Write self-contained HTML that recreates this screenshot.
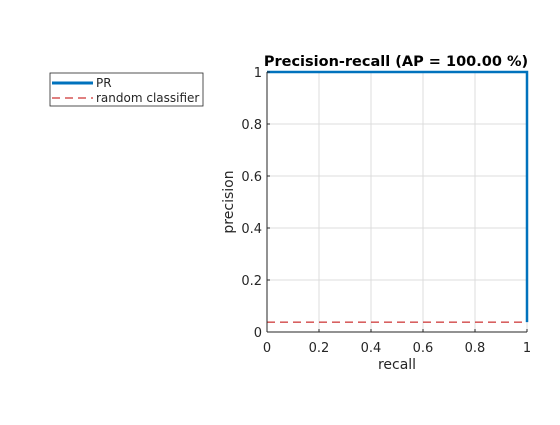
<!DOCTYPE html>
<html><head><style>
body{margin:0;background:#fff;}
svg text{font-family:"DejaVu Sans","Liberation Sans",sans-serif;fill:#262626;}
</style></head><body>
<svg width="560" height="420">
<g id="grid"></g>
<g id="marks"></g>
<g id="axes"></g>
<text x="396" y="66" text-anchor="middle" font-size="14.5" font-weight="bold" style="fill:#000">Precision-recall (AP = 100.00 %)</text>
<text x="397" y="369" text-anchor="middle" font-size="14">recall</text>
<text transform="translate(233,202) rotate(-90)" text-anchor="middle" font-size="14">precision</text>
<g>
<rect x="50" y="73" width="153" height="33" fill="#fff" stroke="#262626" stroke-width="0.8"/>
<line x1="52" y1="83" x2="93" y2="83" stroke="#0072BD" stroke-width="3"/>
<text x="96" y="87" font-size="12">PR</text>
<line x1="52" y1="98" x2="93" y2="98" stroke="#C00000" stroke-width="1" stroke-dasharray="8,5"/>
<text x="96" y="102" font-size="12">random classifier</text>
</g>
</svg>
<script>
const ticks=[0,0.2,0.4,0.6,0.8,1];
const tickLabels=["0","0.2","0.4","0.6","0.8","1"];
const prRecall=[0,1,1];
const prPrecision=[1,1,0.038];
const randomRecall=[0,1];
const randomPrecision=[0.038,0.038];
const X0=267,X1=527,Y0=332,Y1=72;
const sx=v=>X0+v*(X1-X0), sy=v=>Y0-v*(Y0-Y1);
const NS="http://www.w3.org/2000/svg";
function mk(t,a,p){const e=document.createElementNS(NS,t);for(const k in a)e.setAttribute(k,a[k]);p.appendChild(e);return e;}
const grid=document.getElementById('grid'),axes=document.getElementById('axes'),marks=document.getElementById('marks');
ticks.forEach((t,i)=>{
 let g=mk('line',{x1:sx(t),x2:sx(t),y1:Y0,y2:Y1,stroke:'#dcdcdc','stroke-width':1},grid);
 
 
 g=mk('line',{x1:X0,x2:X1,y1:sy(t),y2:sy(t),stroke:'#dcdcdc','stroke-width':1},grid);
 
 
 let tx=mk('text',{x:sx(t),y:Y0+20,'text-anchor':'middle','font-size':13},axes);
 tx.textContent=tickLabels[i];
 
 
 let ty=mk('text',{x:X0-5,y:sy(t)+5,'text-anchor':'end','font-size':13},axes);
 ty.textContent=tickLabels[i];
 
 
 let k=mk('line',{x1:sx(t),x2:sx(t),y1:Y0,y2:Y0-3,stroke:'#262626'},axes);
 
 
 k=mk('line',{x1:X0,x2:X0+3,y1:sy(t),y2:sy(t),stroke:'#262626'},axes);
 
 
});
let ax=mk('line',{x1:X0,x2:X1,y1:Y0,y2:Y0,stroke:'#262626'},axes);


ax=mk('line',{x1:X0,x2:X0,y1:Y0,y2:Y1,stroke:'#262626'},axes);


let r=mk('polyline',{points:randomRecall.map((v,i)=>sx(v)+','+sy(randomPrecision[i])).join(' '),fill:'none',stroke:'#C00000','stroke-width':1,'stroke-dasharray':'8,5'},marks);


let p=mk('polyline',{points:prRecall.map((v,i)=>sx(v)+','+sy(prPrecision[i])).join(' '),fill:'none',stroke:'#0072BD','stroke-width':2.5},marks);


</script>
</body></html>
